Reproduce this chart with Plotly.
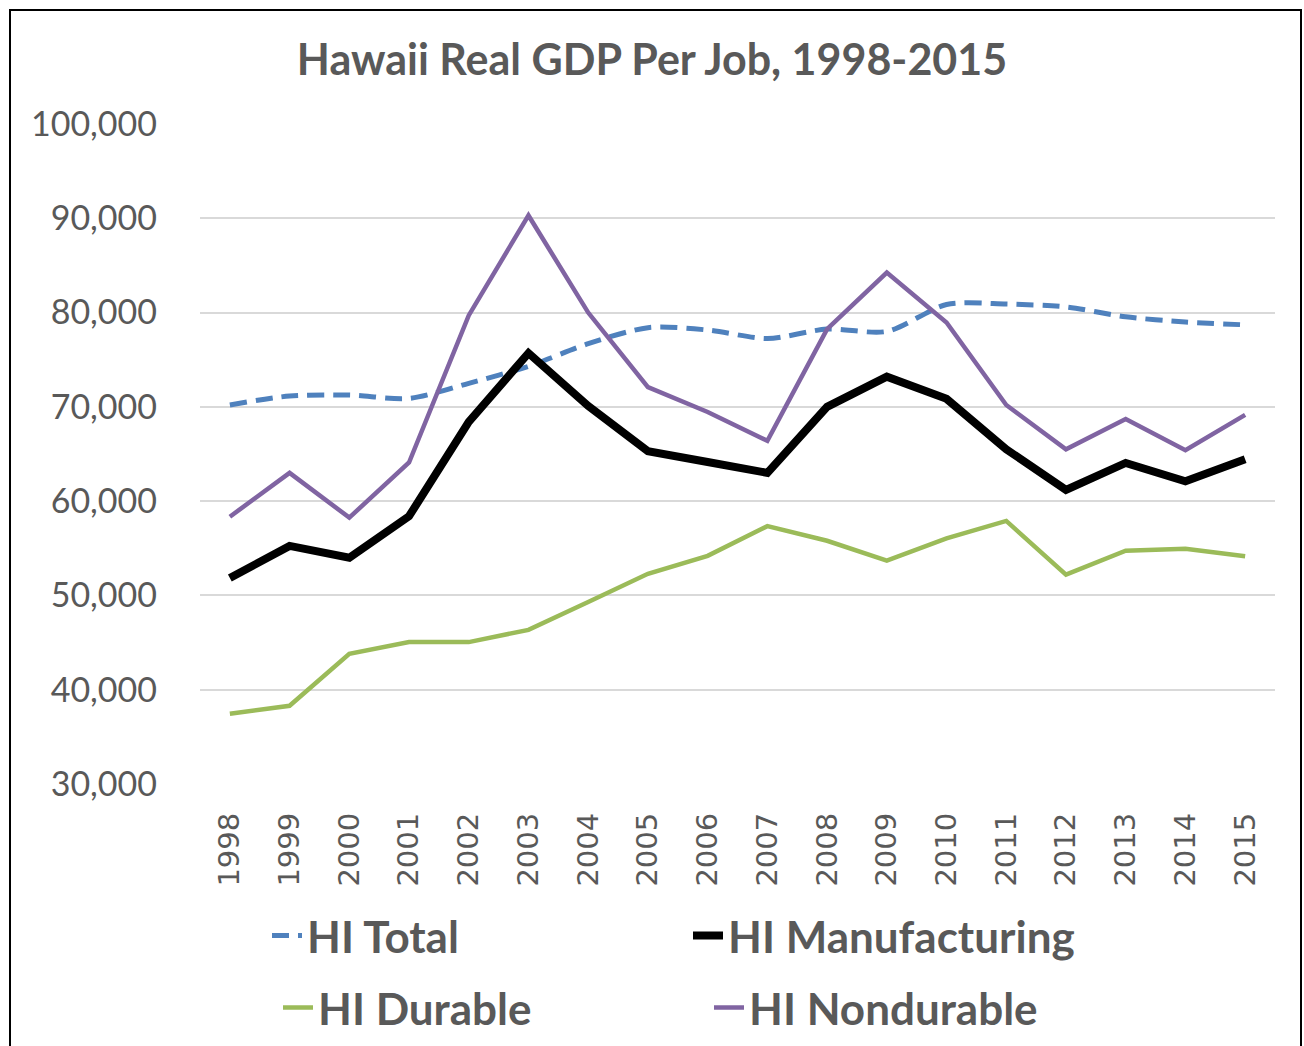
import plotly.graph_objects as go

years = [str(y) for y in range(1998, 2016)]
hi_total = [70200, 71150, 71250, 70900, 72500, 74300, 76700, 78400, 78150, 77250,
            78250, 78000, 80850, 80900, 80600, 79550, 79000, 78700]
hi_manufacturing = [51850, 55250, 54000, 58400, 68400, 75700, 70100, 65300, 64150, 63000,
                    70000, 73200, 70850, 65500, 61200, 64050, 62100, 64450]
hi_durable = [37450, 38300, 43800, 45050, 45050, 46350, 49300, 52300, 54200, 57350,
              55800, 53700, 56050, 57900, 52200, 54750, 54950, 54150]
hi_nondurable = [58350, 63000, 58250, 64100, 79700, 90300, 80000, 72100, 69450, 66400,
                 78250, 84250, 78950, 70200, 65500, 68700, 65400, 69150]

L, R, T, B = 200, 29, 124, 262
W, H = 1304, 1046
PW, PH = W - L - R, H - T - B

def px(x):
    return (x - L) / PW

def py(y):
    return (H - B - y) / PH

grey = "#595959"

fig = go.Figure()
fig.add_trace(go.Scatter(x=years, y=hi_total, name="HI Total", mode="lines",
                         line=dict(color="#4f81bd", width=5, dash="17px,9px", shape="spline", smoothing=0.8),
                         legend="legend", showlegend=True))
fig.add_trace(go.Scatter(x=years, y=hi_manufacturing, name="HI Manufacturing", mode="lines",
                         line=dict(color="#000000", width=8), legend="legend2", showlegend=True))
fig.add_trace(go.Scatter(x=years, y=hi_durable, name="HI Durable", mode="lines",
                         line=dict(color="#9bbb59", width=4.5), legend="legend3", showlegend=True))
fig.add_trace(go.Scatter(x=years, y=hi_nondurable, name="HI Nondurable", mode="lines",
                         line=dict(color="#8064a2", width=4.5), legend="legend4", showlegend=True))

leg_font = dict(family="Lato", size=44, color=grey, weight="bold")
def leg(xp, yp):
    return dict(x=px(xp), y=py(yp), xanchor="left", yanchor="middle", font=leg_font,
                bgcolor="rgba(0,0,0,0)", borderwidth=0, orientation="h", visible=True)

fig.update_layout(
    width=W, height=H,
    showlegend=True,
    margin=dict(l=L, r=R, t=T, b=B, autoexpand=False),
    paper_bgcolor="white", plot_bgcolor="white",
    title=dict(text="Hawaii Real GDP Per Job, 1998-2015", x=0.5, xanchor="center",
               y=1 - 60 / H, yanchor="middle",
               font=dict(family="Lato", size=43, color=grey, weight="bold")),
    xaxis=dict(type="category", range=[-0.5, 17.5], showgrid=False, showline=False,
               ticks="", tickangle=-90, ticklabelstandoff=22,
               tickfont=dict(family="DejaVu Sans", size=29, color=grey)),
    yaxis=dict(range=[30000, 100000], dtick=10000, tickformat=",d", showgrid=True,
               gridcolor="#d9d9d9", gridwidth=2, zeroline=False, showline=False, ticks="",
               ticklabelstandoff=42,
               tickfont=dict(family="Lato", size=34, color=grey)),
    legend=leg(267, 936),
    legend2=leg(688, 936),
    legend3=leg(278, 1008),
    legend4=leg(709, 1008),
    shapes=[dict(type="rect", xref="paper", yref="paper",
                 x0=px(10), x1=px(1301), y0=py(1060), y1=py(10),
                 line=dict(color="#000000", width=2), fillcolor="rgba(0,0,0,0)", layer="above")],
)

fig.write_html("out.html")
